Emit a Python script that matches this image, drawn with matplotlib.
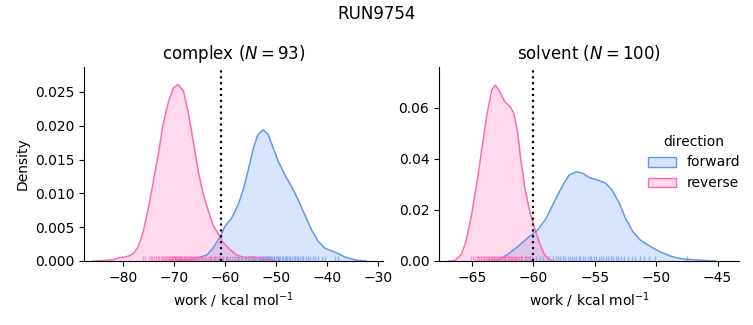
import matplotlib.pyplot as plt
from matplotlib.patches import Patch

blue = '#6495ED'   # cornflowerblue
pink = '#FF69B4'   # hotpink

# complex leg: density curves
cx_rev_x = [-86.0, -84.0, -82.0, -80.6, -79.0, -78.0, -77.1, -76.1, -75.1, -74.1, -73.1, -72.2,
            -71.2, -70.2, -69.2, -68.2, -67.3, -66.3, -65.3, -64.3, -63.3, -62.4, -61.4, -60.4,
            -59.1, -57.8, -56.2, -54.9, -53.6, -52.3, -51.0, -50.0]
cx_rev_d = [0.0, 0.00005, 0.0002, 0.0005, 0.0007, 0.0011, 0.0021, 0.0043, 0.0078, 0.0118, 0.016,
            0.0202, 0.0234, 0.0256, 0.0261, 0.0251, 0.0221, 0.0177, 0.0132, 0.0098, 0.0073, 0.0053,
            0.0040, 0.0027, 0.0017, 0.0009, 0.0005, 0.0006, 0.0005, 0.0003, 0.0001, 0.0]
cx_fwd_x = [-70.0, -68.9, -67.0, -65.6, -63.6, -62.4, -61.0, -60.1, -58.8, -57.5, -56.5, -55.5,
            -54.5, -53.6, -52.6, -51.6, -50.6, -49.6, -48.3, -47.0, -45.7, -44.4, -43.1, -41.8,
            -40.5, -39.2, -37.9, -36.6, -35.3, -34.0, -32.5]
cx_fwd_d = [0.0, 0.0001, 0.0002, 0.0004, 0.0009, 0.0019, 0.0036, 0.0051, 0.0063, 0.0083, 0.0105,
            0.0135, 0.0167, 0.0187, 0.0194, 0.0187, 0.0167, 0.0147, 0.0127, 0.011, 0.009, 0.0068,
            0.0046, 0.0029, 0.0019, 0.0015, 0.0011, 0.0006, 0.0003, 0.0001, 0.0]

# solvent leg
sv_rev_x = [-66.9, -66.4, -65.9, -65.5, -65.05, -64.6, -64.2, -63.8, -63.4, -63.1, -62.75, -62.35,
            -61.9, -61.6, -61.3, -61.05, -60.7, -60.3, -59.9, -59.5, -59.1, -58.7, -58.3]
sv_rev_d = [0.0, 0.0002, 0.0024, 0.0076, 0.018, 0.0311, 0.0442, 0.0573, 0.0671, 0.069, 0.0664,
            0.0625, 0.0605, 0.0579, 0.0507, 0.0403, 0.0285, 0.0193, 0.0128, 0.0069, 0.0024, 0.0005,
            0.0]
sv_fwd_x = [-63.6, -62.9, -62.1, -61.3, -60.5, -59.65, -58.97, -58.3, -57.6, -57.1, -56.5, -56.0,
            -55.45, -54.8, -54.1, -53.6, -53.0, -52.5, -51.9, -51.3, -50.45, -49.6, -48.7, -48.0,
            -46.8, -45.2]
sv_fwd_d = [0.0, 0.0002, 0.0026, 0.0056, 0.0089, 0.0122, 0.0167, 0.0233, 0.0298, 0.0337, 0.035,
            0.0344, 0.0327, 0.0318, 0.0305, 0.0278, 0.0226, 0.0167, 0.0115, 0.0082, 0.0056, 0.0034,
            0.0017, 0.0009, 0.0004, 0.0]

# individual work values (rug marks)
cx_rev_w = [-76.1, -75.8, -75.0, -74.6, -74.3, -73.9, -73.6, -73.2, -73.0, -72.7, -72.5, -72.2,
            -72.1, -71.8, -71.7, -71.4, -71.2, -71.1, -70.9, -70.7, -70.6, -70.4, -70.3, -70.1,
            -70.0, -69.9, -69.8, -69.6, -69.5, -69.4, -69.3, -69.1, -69.0, -68.9, -68.8, -68.6,
            -68.5, -68.4, -68.2, -68.1, -67.9, -67.8, -67.7, -67.5, -67.3, -67.2, -67.0, -66.8,
            -66.7, -66.5, -66.3, -66.1, -65.9, -65.8, -65.5, -65.3, -65.1, -64.8, -64.5, -64.3,
            -64.0, -63.7, -63.4, -63.1, -62.9, -62.5, -62.2, -61.8, -61.4, -61.0, -60.5, -59.7,
            -59.0, -58.2, -57.4, -55.3]
cx_fwd_w = [-63.0, -62.1, -61.3, -60.6, -59.9, -59.4, -58.7, -58.3, -57.8, -57.5, -57.0, -56.7,
            -56.2, -56.0, -55.6, -55.4, -55.0, -54.8, -54.6, -54.3, -54.1, -53.9, -53.6, -53.5,
            -53.3, -53.0, -52.9, -52.7, -52.6, -52.4, -52.2, -52.1, -51.9, -51.7, -51.6, -51.4,
            -51.2, -51.0, -50.8, -50.5, -50.4, -50.1, -49.9, -49.7, -49.4, -49.2, -48.9, -48.6,
            -48.4, -48.1, -47.9, -47.5, -47.3, -46.9, -46.6, -46.4, -46.0, -45.7, -45.4, -45.0,
            -44.7, -44.2, -43.8, -43.5, -42.9, -42.4, -41.8, -41.1, -40.5, -38.6, -37.9]
sv_rev_w = [-65.1, -64.9, -64.8, -64.6, -64.5, -64.4, -64.3, -64.25, -64.1, -64.0, -63.95, -63.9,
            -63.8, -63.7, -63.65, -63.6, -63.5, -63.45, -63.4, -63.3, -63.25, -63.2, -63.1, -63.05,
            -63.0, -62.9, -62.85, -62.8, -62.7, -62.65, -62.6, -62.5, -62.4, -62.35, -62.3, -62.2,
            -62.1, -62.05, -62.0, -61.9, -61.8, -61.75, -61.7, -61.6, -61.5, -61.4, -61.3, -61.2,
            -61.0, -60.9, -60.7, -60.5, -60.3]
sv_fwd_w = [-61.4, -61.0, -60.7, -60.4, -60.1, -59.8, -59.5, -59.2, -58.9, -58.7, -58.4, -58.2,
            -58.0, -57.8, -57.6, -57.4, -57.2, -57.0, -56.9, -56.7, -56.5, -56.3, -56.2, -56.0,
            -55.8, -55.6, -55.4, -55.3, -55.1, -54.9, -54.7, -54.5, -54.3, -54.1, -53.9, -53.7,
            -53.5, -53.3, -53.1, -52.9, -52.6, -52.3, -52.0, -51.7, -51.3, -51.0, -50.6, -50.1,
            -47.5]

bar_est = [-60.9, -60.0]   # dotted lines
titles = ['complex ($N = 93$)', 'solvent ($N = 100$)']
xlims = [(-87.7, -29.1), (-67.7, -43.25)]
ylims = [(0, 0.0287), (0, 0.0761)]

fig = plt.figure(figsize=(7.53, 3.25), dpi=100)
ax1 = fig.add_axes([0.1116, 0.197, 0.3970, 0.597])
ax2 = fig.add_axes([0.5830, 0.197, 0.3985, 0.597])
axes = [ax1, ax2]

curves = [[(cx_fwd_x, cx_fwd_d, cx_fwd_w, blue), (cx_rev_x, cx_rev_d, cx_rev_w, pink)],
          [(sv_fwd_x, sv_fwd_d, sv_fwd_w, blue), (sv_rev_x, sv_rev_d, sv_rev_w, pink)]]

for i, ax in enumerate(axes):
    for x, d, w, c in curves[i]:
        ax.fill_between(x, d, color=c, alpha=0.25, lw=0)
        ax.plot(x, d, color=c, lw=1.1)
        # rug: 2.5% of axes height
        ax.vlines(w, 0, 0.025, transform=ax.get_xaxis_transform(), color=c, lw=1.0, alpha=0.6)
    ax.axvline(bar_est[i], color='k', ls=':', lw=1.6)
    ax.set_xlim(xlims[i])
    ax.set_ylim(ylims[i])
    ax.set_title(titles[i], fontsize=12)
    ax.set_xlabel('work / kcal mol$^{-1}$')
    ax.spines['top'].set_visible(False)
    ax.spines['right'].set_visible(False)

ax1.set_ylabel('Density')
ax2.set_xticks([-65, -60, -55, -50, -45])

fig.suptitle('RUN9754', fontsize=12, y=0.985)

handles = [Patch(facecolor=(0.39, 0.58, 0.93, 0.25), edgecolor=blue),
           Patch(facecolor=(1.0, 0.41, 0.71, 0.25), edgecolor=pink)]
fig.legend(handles, ['forward', 'reverse'], title='direction', frameon=False,
           loc='center right', bbox_to_anchor=(1.0, 0.5))

plt.savefig('out.png', dpi=100)
